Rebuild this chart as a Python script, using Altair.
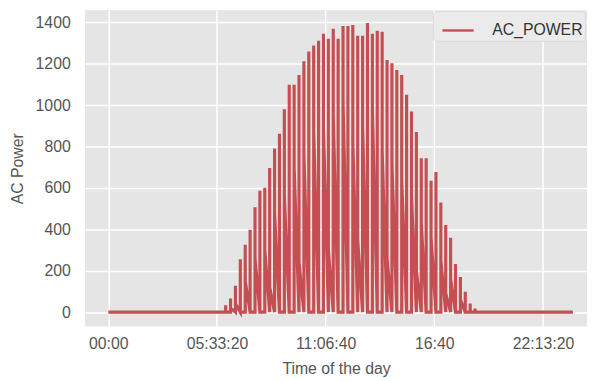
import altair as alt
import pandas as pd

# Sampling grid: every 15 minutes of the day, in seconds
STEP_SECONDS = 900
DAY_SECONDS = 86400
DAY_START = 21600  # 06:00, first daylight sample

# Daily envelope (highest AC power at each 15-min slot, 06:00 .. 18:45)
HIGH = [33, 66, 127, 255, 326, 398, 507, 587, 601, 696, 791, 862, 980,
        1099, 1099, 1146, 1212, 1260, 1289, 1312, 1345, 1321, 1369, 1321,
        1383, 1383, 1388, 1336, 1336, 1397, 1345, 1360, 1355, 1218, 1203,
        1170, 1146, 1051, 970, 871, 744, 744, 635, 677, 530, 421, 360,
        232, 170, 99, 42, 18]
# Value at which the line leaves each slot for the next one
LINK = [0, 20, 40, 0, 150, 0, 260, 0, 300, 120, 480, 0, 560, 0, 700, 240,
        760, 0, 880, 0, 900, 300, 950, 0, 1010, 0, 820, 350, 900, 0, 980, 0,
        780, 260, 720, 0, 640, 0, 560, 200, 430, 0, 360, 0, 250, 90, 160, 0,
        60, 0, 0, 0]

TICK_VALUES = [0, 20000, 40000, 60000, 80000]
TICK_LABELS = ["00:00", "05:33:20", "11:06:40", "16:40", "22:13:20"]
Y_TICKS = [0, 200, 400, 600, 800, 1000, 1200, 1400]
SERIES = "AC_POWER"

rows = []
idx = 0
for t in range(0, DAY_SECONDS, STEP_SECONDS):
    k = (t - DAY_START) // STEP_SECONDS
    if t >= DAY_START and k < len(HIGH):
        seq = [0, HIGH[k], LINK[k]]
    else:
        seq = [0]
    for v in seq:
        rows.append({"t": t, "power": v, "idx": idx, "series": SERIES})
        idx += 1
df = pd.DataFrame(rows)

label_expr = "''"
for v, lab in reversed(list(zip(TICK_VALUES, TICK_LABELS))):
    label_expr = f"datum.value == {v} ? '{lab}' : ({label_expr})"

chart = alt.Chart(df).mark_line(strokeWidth=3.2, clip=True).encode(
    x=alt.X("t:Q",
            scale=alt.Scale(domain=[-4275, 88100], nice=False, zero=False),
            axis=alt.Axis(values=TICK_VALUES, labelExpr=label_expr,
                          title="Time of the day", labelPadding=9,
                          titlePadding=10)),
    y=alt.Y("power:Q",
            scale=alt.Scale(domain=[-69, 1459], nice=False, zero=False),
            axis=alt.Axis(values=Y_TICKS, format="d", title="AC Power",
                          labelPadding=15, titlePadding=10)),
    color=alt.Color("series:N",
                    scale=alt.Scale(domain=[SERIES], range=["#C44E52"]),
                    legend=alt.Legend(title=None, orient="none",
                                      legendX=352, legendY=1,
                                      symbolType="stroke", symbolSize=1000,
                                      symbolStrokeWidth=2.4,
                                      symbolOffset=6,
                                      labelFontSize=16, labelColor="#333333",
                                      labelFont="Liberation Sans",
                                      labelOffset=17, padding=2,
                                      fillColor="#EBEBEB",
                                      strokeColor="#DADADA",
                                      cornerRadius=4)),
    order=alt.Order("idx:Q"),
).properties(
    width=508,
    height=320,
    autosize=alt.AutoSizeParams(type="none"),
    padding={"left": 78, "top": 0, "right": 0, "bottom": 52},
).configure_view(
    fill="#E5E5E5", strokeWidth=0
).configure_axis(
    grid=True, gridColor="#FFFFFF", gridWidth=1.5,
    domain=False, ticks=False,
    labelFont="Liberation Sans", labelFontSize=16, labelColor="#555555",
    titleFont="Liberation Sans", titleFontSize=16, titleColor="#555555",
    titleFontWeight="normal",
)

chart.save("out.html", embed_options={"renderer": "svg", "actions": False})
